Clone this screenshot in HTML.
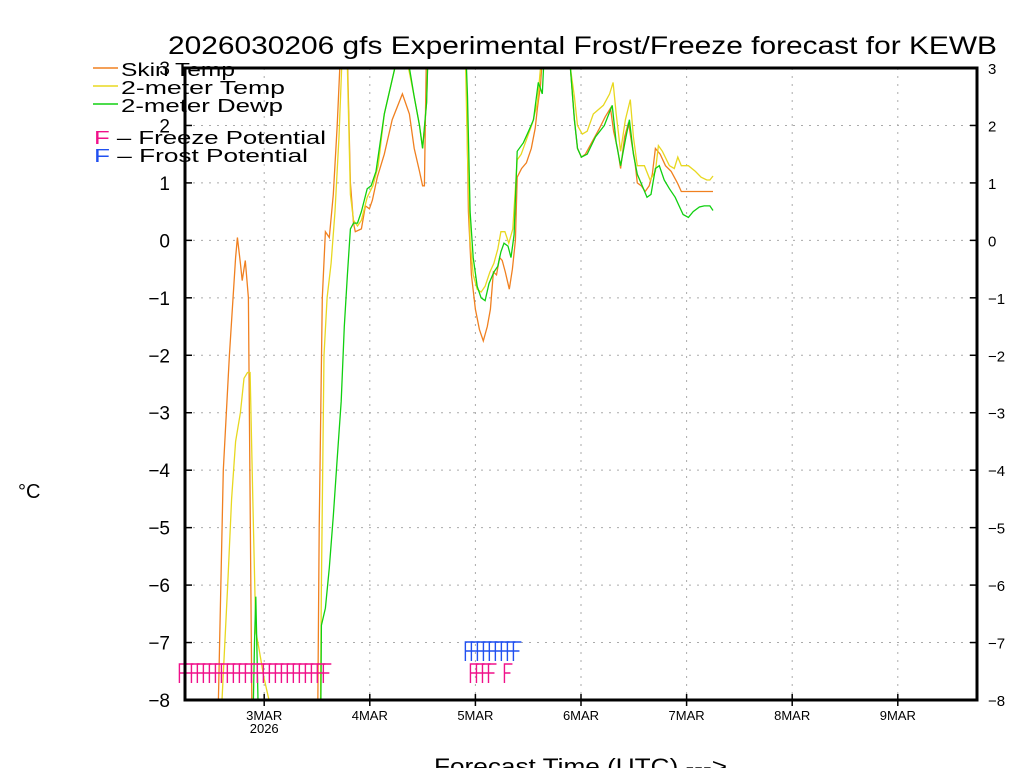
<!DOCTYPE html>
<html><head><meta charset="utf-8"><style>
html,body{margin:0;padding:0;background:#fff;width:1024px;height:768px;overflow:hidden}
svg{display:block;font-family:"Liberation Sans",sans-serif}
</style></head><body>
<svg id="chart" width="1024" height="768" viewBox="0 0 1024 768" xmlns="http://www.w3.org/2000/svg">
<defs><clipPath id="plotclip"><rect x="185" y="68" width="792" height="632"/></clipPath></defs>
<text x="168" y="54" font-size="25" textLength="829" lengthAdjust="spacingAndGlyphs">2026030206 gfs Experimental Frost/Freeze forecast for KEWB</text>
<g id="grid"></g>
<g id="series" clip-path="url(#plotclip)"></g>
<g id="marks"></g>
<rect x="185" y="68" width="792" height="632" fill="none" stroke="#000" stroke-width="3"/>
<g id="axes"></g>
<g>
<line x1="93" y1="68" x2="118" y2="68" stroke="#f08020" stroke-width="1.5"/>
<text x="121" y="76" font-size="18" textLength="114" lengthAdjust="spacingAndGlyphs">Skin Temp</text>
<line x1="93" y1="86" x2="118" y2="86" stroke="#e8d820" stroke-width="1.5"/>
<text x="121" y="94" font-size="18" textLength="164" lengthAdjust="spacingAndGlyphs">2-meter Temp</text>
<line x1="93" y1="104" x2="118" y2="104" stroke="#10d010" stroke-width="1.5"/>
<text x="121" y="112" font-size="18" textLength="162" lengthAdjust="spacingAndGlyphs">2-meter Dewp</text>
<text x="94" y="144" font-size="18" textLength="232" lengthAdjust="spacingAndGlyphs"><tspan fill="#f0108a">F</tspan> – Freeze Potential</text>
<text x="94" y="162" font-size="18" textLength="214" lengthAdjust="spacingAndGlyphs"><tspan fill="#2050f0">F</tspan> – Frost Potential</text>
</g>
<text x="18" y="498" font-size="20">°C</text>
<text x="434" y="774" font-size="22" textLength="293" lengthAdjust="spacingAndGlyphs">Forecast Time (UTC) ---&gt;</text>
</svg>
<script>
// hours since 2MAR 06Z
const skinH=[0,6.9,7.6,8.7,10.1,11.5,11.9,12.6,13,13.7,14.4,15.3,30.1,30.5,31.2,31.9,32.8,33.7,34.6,35.3,36.2,36.9,37.6,38.3,38.7,40.1,41,41.9,42.6,43.7,45.3,47.1,49.4,51,52.1,53.3,54,54.4,54.9,55.5,63.5,63.9,64.4,65.1,66,66.9,67.8,68.7,69.4,70.1,70.8,71.5,72.1,72.8,73.7,74.4,75.1,75.5,76.5,77.6,78.7,79.6,80.1,80.8,81.5,82.4,86.9,87.6,88.5,89.2,90.1,91,92.4,94.2,95.5,96.7,97.4,98.3,99,99.9,100.8,101.5,102.2,102.8,103.7,104.6,105.5,106.2,106.9,108,109.2,110.5,111.9,112.8,120];
const skinV=[-9,-9,-8,-4,-2,-0.3,0.05,-0.4,-0.7,-0.35,-1.0,-9,-9,-5,-1,0.15,0.05,0.8,2.0,3.2,4,3.2,1.0,0.3,0.15,0.2,0.6,0.55,0.7,1.1,1.5,2.1,2.55,2.2,1.6,1.2,0.95,0.95,3.5,4,4,3,0.5,-0.6,-1.2,-1.55,-1.75,-1.5,-1.2,-0.55,-0.6,-0.3,-0.35,-0.55,-0.85,-0.5,0.0,1.1,1.25,1.35,1.6,1.95,2.3,2.7,3.5,4,4,3.0,2.1,1.6,1.45,1.5,1.7,1.95,2.15,2.3,1.9,1.6,1.25,1.8,2.05,1.7,1.4,1.0,0.95,0.85,0.95,1.15,1.6,1.5,1.3,1.2,1.0,0.85,0.85];
const tempH=[0,7.9,8.4,9.7,10.6,11.5,12.6,13.4,14.2,14.8,15.4,16.1,16.8,17.9,19.1,20.2,30.7,31.0,31.6,32.3,33.2,34.1,35.0,35.7,36.2,36.9,37.6,38.3,39.2,40.1,41.4,42.7,43.9,45.3,47.1,48.3,49.4,50.8,52.1,53.3,54,54.9,55.5,63.5,64.2,64.8,65.5,66.4,67.3,68.2,69.3,70.2,71.1,71.8,72.7,73.6,74.5,75.5,76.4,77.6,79.0,80.1,80.8,81.5,86.7,87.6,88.5,89.2,90.3,91.4,92.8,95.1,96.5,97.3,98.0,99.0,100.1,101.2,101.9,102.8,104.4,105.7,106.9,107.6,108.5,110.1,111.2,112.0,112.8,114.4,116.0,117.3,118.6,119.3,120];
const tempV=[-9,-9,-8,-6,-4.5,-3.5,-3.0,-2.4,-2.3,-2.3,-4.5,-6.8,-7.1,-7.6,-8.0,-9,-9,-6,-2,-1,-0.4,0.5,1.8,3.2,4,3.0,0.8,0.35,0.25,0.35,0.75,0.95,1.3,2.2,2.8,3.2,4,3.0,2.5,2.0,1.6,2.4,4,4,1.5,0,-0.6,-0.85,-0.9,-0.8,-0.55,-0.4,-0.15,0.15,0.15,-0.05,0.2,1.4,1.5,1.75,2.05,2.4,3.0,4,4,3.0,2.5,2.0,1.85,1.9,2.2,2.35,2.55,2.75,2.2,1.55,2.1,2.45,1.8,1.3,1.3,1.05,1.2,1.65,1.55,1.3,1.25,1.45,1.3,1.3,1.2,1.1,1.05,1.05,1.12];
const dewpH=[0,15.3,15.8,16.1,16.6,17.1,30.8,31.0,31.9,32.8,33.7,34.6,35.5,36.2,36.9,37.6,38.3,39.2,40.1,41.4,42.3,43.4,45.3,47.1,48.3,49.4,50.8,52.1,53.3,54,54.9,55.5,63.5,64.2,64.8,65.5,66.4,67.3,68.2,69.1,70.2,71.1,71.8,72.5,73.4,74.1,74.8,75.5,76.9,78.1,79.2,80.3,81.2,81.8,86.7,87.6,88.5,89.2,90.1,91.4,93.3,95.3,97.1,98.0,99.0,100.1,101.0,101.9,102.8,103.9,105,105.9,106.9,107.8,108.9,110.1,111.4,112.3,113.2,114.4,115.5,116.9,118.0,119.3,120];
const dewpV=[-9,-9,-7,-6.2,-8,-9,-9,-6.7,-6.4,-5.7,-4.8,-3.8,-2.8,-1.5,-0.6,0.2,0.3,0.3,0.5,0.9,0.95,1.2,2.2,2.8,3.2,4,3.1,2.5,2.0,1.6,2.4,4,4,2.5,0.5,-0.3,-0.8,-1.0,-1.05,-0.75,-0.55,-0.45,-0.2,-0.05,-0.1,-0.3,0.1,1.55,1.7,1.9,2.1,2.75,2.55,3.5,4,3,2.1,1.6,1.45,1.5,1.8,2.0,2.35,1.7,1.3,1.75,2.1,1.5,1.15,0.95,0.75,0.8,1.25,1.3,1.05,0.9,0.75,0.6,0.45,0.4,0.5,0.58,0.6,0.6,0.52];
// potential markers (days of March)
const freezeT=[2.197,2.254,2.311,2.367,2.424,2.481,2.538,2.595,2.651,2.708,2.765,2.822,2.879,2.935,2.992,3.049,3.106,3.163,3.219,3.276,3.333,3.390,3.447,3.503,3.560,4.953,5.010,5.067,5.124,5.275];
const frostT=[4.905,4.962,5.019,5.076,5.132,5.189,5.246,5.303,5.360];
const yTicks=[3,2,1,0,-1,-2,-3,-4,-5,-6,-7,-8];
const dayTicks=[3,4,5,6,7,8,9];
const dayLabels=["3MAR","4MAR","5MAR","6MAR","7MAR","8MAR","9MAR"];

const NS="http://www.w3.org/2000/svg";
const X0=185,X1=977,Y0=68,Y1=700,DMIN=2.25,DMAX=9.75,VMIN=-8,VMAX=3;
const xd=d=>X0+(d-DMIN)/(DMAX-DMIN)*(X1-X0);
const xh=h=>xd(DMIN+h/24);
const y=v=>Y1-(v-VMIN)/(VMAX-VMIN)*(Y1-Y0);
function mk(tag,attrs,parent){const e=document.createElementNS(NS,tag);for(const k in attrs)e.setAttribute(k,attrs[k]);parent.appendChild(e);return e;}
const grid=document.getElementById('grid'),axes=document.getElementById('axes'),ser=document.getElementById('series'),marks=document.getElementById('marks');
yTicks.forEach(v=>{
  const g=mk('line',{x1:X0,x2:X1,y1:y(v),y2:y(v),stroke:'#aaa','stroke-dasharray':'2,6','stroke-width':1},grid);
  
  
  const t1=mk('line',{x1:X0,x2:X0+7,y1:y(v),y2:y(v),stroke:'#000','stroke-width':1.5},axes);
  
  
  const t2=mk('line',{x1:X1-7,x2:X1,y1:y(v),y2:y(v),stroke:'#000','stroke-width':1.5},axes);
  
  
  const lab=(v<0?'\u2212':'')+Math.abs(v);
  const l=mk('text',{x:170,y:y(v)+7,'font-size':19,'text-anchor':'end'},axes);l.textContent=lab;
  
  
  const r=mk('text',{x:988,y:y(v)+6,'font-size':15},axes);r.textContent=lab;
  
  
});
dayTicks.forEach((d,i)=>{
  const g=mk('line',{x1:xd(d),x2:xd(d),y1:Y0,y2:Y1,stroke:'#aaa','stroke-dasharray':'2,6','stroke-width':1},grid);
  
  
  const t=mk('line',{x1:xd(d),x2:xd(d),y1:Y1-6,y2:Y1+6,stroke:'#000','stroke-width':1.5},axes);
  
  
  const l=mk('text',{x:xd(d),y:720,'font-size':13,'text-anchor':'middle'},axes);l.textContent=dayLabels[i];
  
  
});
const yr=mk('text',{x:xd(3),y:733,'font-size':13,'text-anchor':'middle'},axes);yr.textContent='2026';


function line(H,V,color,name){
  const p=mk('polyline',{points:H.map((h,i)=>xh(h).toFixed(1)+','+y(V[i]).toFixed(1)).join(' '),fill:'none',stroke:color,'stroke-width':1.3},ser);
  
  
}
line(skinH,skinV,'#f08020','skin-temp-line');
line(tempH,tempV,'#e8d820','2m-temp-line');
line(dewpH,dewpV,'#10d010','2m-dewp-line');
function F(d,top,color,name){
  const x=xd(d);
  const p=mk('path',{d:`M${x} ${top+19}V${top}h8M${x} ${top+9}h6`,fill:'none',stroke:color,'stroke-width':1.4},marks);
  
  
}
freezeT.forEach(d=>F(d,664,'#f0108a','freeze-marker'));
frostT.forEach(d=>F(d,642,'#2050f0','frost-marker'));
</script>
</body></html>
